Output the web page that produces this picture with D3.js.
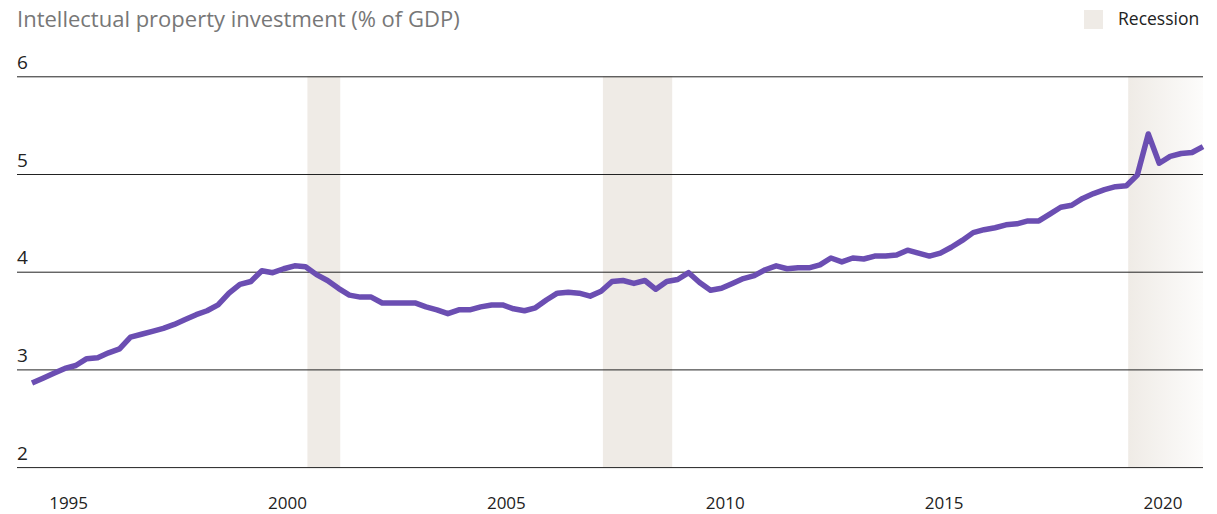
<!DOCTYPE html>
<html>
<head>
<meta charset="utf-8">
<script src="https://cdn.jsdelivr.net/npm/d3@7/dist/d3.min.js"></script>
<style>
  body { margin: 0; background: #fff; }
  svg { display: block; font-family: "Open Sans", Lato, sans-serif; }
</style>
</head>
<body>
<div id="chart"></div>
<script>
// quarterly series, first value is 1994 Q4
var firstYear = 1994, firstQuarter = 4;
var ipShare = [
  2.86, 2.91, 2.96, 3.01, 3.04, 3.11, 3.12, 3.17, 3.21, 3.33,
  3.36, 3.39, 3.42, 3.46, 3.51, 3.56, 3.60, 3.66, 3.78, 3.87,
  3.90, 4.01, 3.99, 4.03, 4.06, 4.05, 3.97, 3.91, 3.83, 3.76,
  3.74, 3.74, 3.68, 3.68, 3.68, 3.68, 3.64, 3.61, 3.57, 3.61,
  3.61, 3.64, 3.66, 3.66, 3.62, 3.60, 3.63, 3.71, 3.78, 3.79,
  3.78, 3.75, 3.80, 3.90, 3.91, 3.88, 3.91, 3.82, 3.90, 3.92,
  3.99, 3.89, 3.81, 3.83, 3.88, 3.93, 3.96, 4.02, 4.06, 4.03,
  4.04, 4.04, 4.07, 4.14, 4.10, 4.14, 4.13, 4.16, 4.16, 4.17,
  4.22, 4.19, 4.16, 4.19, 4.25, 4.32, 4.40, 4.43, 4.45, 4.48,
  4.49, 4.52, 4.52, 4.59, 4.66, 4.68, 4.75, 4.80, 4.84, 4.87,
  4.88, 4.99, 5.41, 5.11, 5.18, 5.21, 5.22, 5.28
];
var yTicks = [2, 3, 4, 5, 6];
var yearTicks = [1995, 2000, 2005, 2010, 2015, 2020];
// recession months (YYYY-MM); null end = still running at the chart's edge
var recessionStart = ["2001-03", "2007-12", "2019-12"];
var recessionEnd = ["2001-11", "2009-06", null];

var width = 1217, height = 514;
var bandColor = "#efebe6";
var lineColor = "#6b4eb2";

// mid-quarter as fractional year
function quarterTime(i) {
  var q = firstQuarter - 1 + i;
  return firstYear + Math.floor(q / 4) + (q % 4) * 0.25 + 0.125;
}
function monthTime(s, end) {
  var p = s.split("-");
  return +p[0] + (+p[1] - (end ? 0 : 1)) / 12;
}

var data = ipShare.map(function(v, i) { return {t: quarterTime(i), v: v}; });
var tMin = data[0].t, tMax = data[data.length - 1].t;

var x = d3.scaleLinear().domain([tMin, tMax]).range([32, 1203]);
var y = d3.scaleLinear().domain([2, 6]).range([467.1, 76.3]);
var gridLeft = 17;

var svg = d3.select("#chart").append("svg")
  .attr("width", width)
  .attr("height", height);

var defs = svg.append("defs");
var grad = defs.append("linearGradient").attr("id", "fade");
grad.append("stop").attr("offset", "0%").attr("stop-color", bandColor).attr("stop-opacity", 1);
grad.append("stop").attr("offset", "100%").attr("stop-color", bandColor).attr("stop-opacity", 0.15);

// recession bands
svg.append("g").selectAll("rect")
  .data(recessionStart.map(function(s, i) {
    return {a: monthTime(s, false), b: recessionEnd[i] ? monthTime(recessionEnd[i], true) : tMax, open: !recessionEnd[i]};
  }))
  .enter().append("rect")
  .attr("x", function(d) { return x(d.a); })
  .attr("width", function(d) { return x(d.b) - x(d.a); })
  .attr("y", y(6))
  .attr("height", y(2) - y(6))
  .attr("fill", function(d) { return d.open ? "url(#fade)" : bandColor; });

// y gridlines + labels
var yAxis = svg.append("g")
  .attr("transform", "translate(" + gridLeft + ",0)")
  .call(d3.axisRight(y).tickValues(yTicks).tickSize(x.range()[1] - gridLeft).tickFormat(d3.format("d")));
yAxis.select(".domain").remove();
yAxis.selectAll(".tick line").attr("stroke", "#222").attr("stroke-width", 1);
yAxis.selectAll(".tick text")
  .attr("x", 0).attr("dy", -8)
  .attr("text-anchor", "start")
  .attr("font-size", 19)
  .attr("font-family", "'Open Sans', sans-serif")
  .attr("fill", "#222");

// year labels
var xAxis = svg.append("g")
  .attr("transform", "translate(0,490)")
  .call(d3.axisBottom(x)
    .tickValues(yearTicks.map(function(d) { return d + 0.7; }))
    .tickSize(0)
    .tickFormat(function(d) { return Math.floor(d); }));
xAxis.select(".domain").remove();
xAxis.selectAll(".tick text")
  .attr("y", 19).attr("dy", 0)
  .attr("font-size", 17)
  .attr("font-family", "'Open Sans', sans-serif")
  .attr("fill", "#222");

// series
var line = d3.line()
  .x(function(d) { return x(d.t); })
  .y(function(d) { return y(d.v); });

svg.append("path")
  .datum(data)
  .attr("d", line)
  .attr("fill", "none")
  .attr("stroke", lineColor)
  .attr("stroke-width", 5.5)
  .attr("stroke-linejoin", "round");

// title
svg.append("text")
  .attr("x", 17).attr("y", 27)
  .attr("font-size", 22)
  .attr("fill", "#777")
  .text("Intellectual property investment (% of GDP)");

// legend
svg.append("rect")
  .attr("x", 1084).attr("y", 10)
  .attr("width", 19).attr("height", 19)
  .attr("fill", bandColor);
svg.append("text")
  .attr("x", 1118).attr("y", 25)
  .attr("font-size", 17.5)
  .attr("fill", "#222")
  .text("Recession");
</script>
</body>
</html>
